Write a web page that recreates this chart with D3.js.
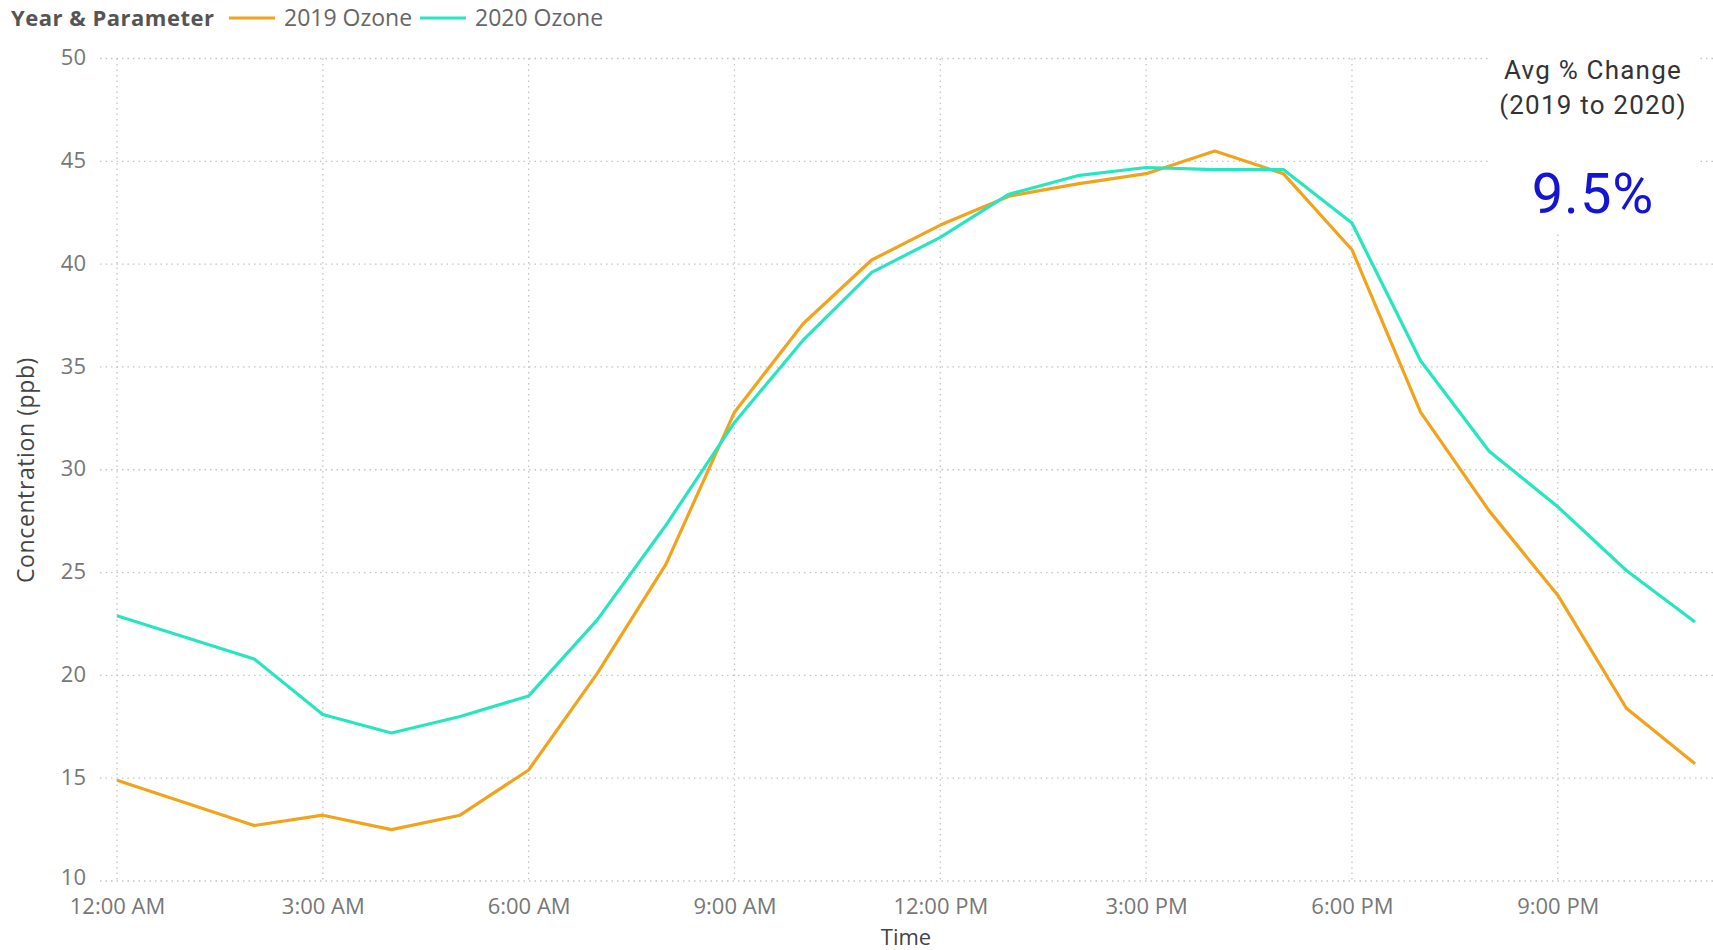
<!DOCTYPE html>
<html>
<head>
<meta charset="utf-8">
<script src="https://cdnjs.cloudflare.com/ajax/libs/d3/7.8.5/d3.min.js"></script>
<style>
  body { margin: 0; background: #fff; }
  svg { display: block; }
</style>
</head>
<body>
<div id="chart"></div>
<script>
var width_chart = 1713,
    height_chart = 950;

// hour of day (1 AM has no reading)
var hours = [0, 2, 3, 4, 5, 6, 7, 8, 9, 10, 11, 12, 13, 14, 15, 16, 17, 18, 19, 20, 21, 22, 23];
var ozone_2019 = [14.9, 12.7, 13.2, 12.5, 13.2, 15.4, 20.1, 25.4, 32.8, 37.1, 40.2, 41.9, 43.3, 43.9, 44.4, 45.5, 44.4, 40.7, 32.8, 28.0, 23.9, 18.4, 15.7];
var ozone_2020 = [22.9, 20.8, 18.1, 17.2, 18.0, 19.0, 22.7, 27.3, 32.3, 36.3, 39.6, 41.3, 43.4, 44.3, 44.7, 44.6, 44.6, 42.0, 35.3, 30.9, 28.2, 25.1, 22.6];
var series_names = ["2019 Ozone", "2020 Ozone"];
var x_ticks = [0, 3, 6, 9, 12, 15, 18, 21];
var y_ticks = [10, 15, 20, 25, 30, 35, 40, 45, 50];
var avg_change = "9.5%";

var color_2019 = "#f2a31c";
var color_2020 = "#27e6bf";
var font = "'Open Sans', 'Noto Sans', sans-serif";

var svg = d3.select("#chart").append("svg")
    .attr("width", width_chart)
    .attr("height", height_chart);

var x = d3.scaleLinear().domain([0, 23]).range([117, 1695]);
var y = d3.scaleLinear().domain([10, 50]).range([881, 58.5]);

function hourLabel(h) {
	var hh = h % 12 == 0 ? 12 : h % 12;
	return hh + ":00 " + (h < 12 ? "AM" : "PM");
}

// gridlines
svg.append("g")
	.selectAll("line")
	.data(y_ticks)
	.enter().append("line")
	.attr("x1", 100).attr("x2", width_chart)
	.attr("y1", function(d) { return y(d); })
	.attr("y2", function(d) { return y(d); })
	.style("stroke", "#c4c4c4")
	.style("stroke-width", 1.3)
	.style("stroke-dasharray", "1.5,4");

svg.append("g")
	.selectAll("line")
	.data(x_ticks)
	.enter().append("line")
	.attr("x1", function(d) { return x(d); })
	.attr("x2", function(d) { return x(d); })
	.attr("y1", y(50)).attr("y2", y(10))
	.style("stroke", "#c4c4c4")
	.style("stroke-width", 1.3)
	.style("stroke-dasharray", "1.5,4");

// card background hides the gridlines behind it
svg.append("rect")
	.attr("x", 1488).attr("y", 44)
	.attr("width", 212).attr("height", 190)
	.style("fill", "#fff");

// axes
var yAxis = svg.append("g")
	.attr("transform", "translate(86,0)")
	.call(d3.axisLeft(y).tickValues(y_ticks).tickSize(0).tickPadding(0));
yAxis.select(".domain").remove();
yAxis.selectAll("text")
	.attr("dy", function(d) { return d == 10 ? "0.18em" : "0.28em"; })
	.style("font-family", font)
	.style("font-size", "22px")
	.style("fill", "#777");

var xAxis = svg.append("g")
	.attr("transform", "translate(0,898)")
	.call(d3.axisBottom(x).tickValues(x_ticks).tickFormat(hourLabel).tickSize(0).tickPadding(0));
xAxis.select(".domain").remove();
xAxis.selectAll("text")
	.style("font-family", font)
	.style("font-size", "22px")
	.style("fill", "#777");

svg.append("text")
	.attr("x", 906).attr("y", 945)
	.attr("text-anchor", "middle")
	.style("font-family", font)
	.style("font-size", "22px")
	.style("fill", "#444")
	.text("Time");

svg.append("text")
	.attr("transform", "translate(34,470) rotate(-90)")
	.attr("text-anchor", "middle")
	.style("font-family", font)
	.style("font-size", "23px")
	.style("letter-spacing", "0.6px")
	.style("fill", "#444")
	.text("Concentration (ppb)");

// lines
var line = d3.line()
	.x(function(d) { return x(d.h); })
	.y(function(d) { return y(d.v); });

var series = [
	{ name: series_names[0], color: color_2019, values: hours.map(function(h, i) { return { h: h, v: ozone_2019[i] }; }) },
	{ name: series_names[1], color: color_2020, values: hours.map(function(h, i) { return { h: h, v: ozone_2020[i] }; }) }
];

svg.selectAll("path.series")
	.data(series)
	.enter().append("path")
	.attr("class", "series")
	.attr("d", function(d) { return line(d.values); })
	.style("fill", "none")
	.style("stroke", function(d) { return d.color; })
	.style("stroke-width", 3.2)
	.style("stroke-linejoin", "round");

// legend
svg.append("text")
	.attr("x", 11).attr("y", 26)
	.style("font-family", font)
	.style("font-size", "22px")
	.style("font-weight", "bold")
	.style("letter-spacing", "0.5px")
	.style("fill", "#555")
	.text("Year & Parameter");

var legend_x = [229, 420];
var legend = svg.selectAll("g.legend")
	.data(series)
	.enter().append("g")
	.attr("class", "legend")
	.attr("transform", function(d, i) { return "translate(" + legend_x[i] + ",0)"; });

legend.append("line")
	.attr("x1", 0).attr("x2", 46)
	.attr("y1", 18).attr("y2", 18)
	.style("stroke", function(d) { return d.color; })
	.style("stroke-width", 3);

legend.append("text")
	.attr("x", 55).attr("y", 26)
	.style("font-family", font)
	.style("font-size", "23px")
	.style("fill", "#666")
	.text(function(d) { return d.name; });

// avg % change card
var card = svg.append("g").attr("transform", "translate(1593,0)");
card.append("text")
	.attr("y", 79)
	.attr("text-anchor", "middle")
	.style("font-family", "Roboto, sans-serif")
	.style("font-size", "26px")
	.style("letter-spacing", "1.2px")
	.style("fill", "#333")
	.text("Avg % Change");
card.append("text")
	.attr("y", 114)
	.attr("text-anchor", "middle")
	.style("font-family", "Roboto, sans-serif")
	.style("font-size", "26px")
	.style("letter-spacing", "1.2px")
	.style("fill", "#333")
	.text("(2019 to 2020)");
card.append("text")
	.attr("y", 213)
	.attr("text-anchor", "middle")
	.style("font-family", "Roboto, sans-serif")
	.style("font-size", "56px")
	.style("letter-spacing", "1px")
	.style("fill", "#1414d4")
	.text(avg_change);
</script>
</body>
</html>
